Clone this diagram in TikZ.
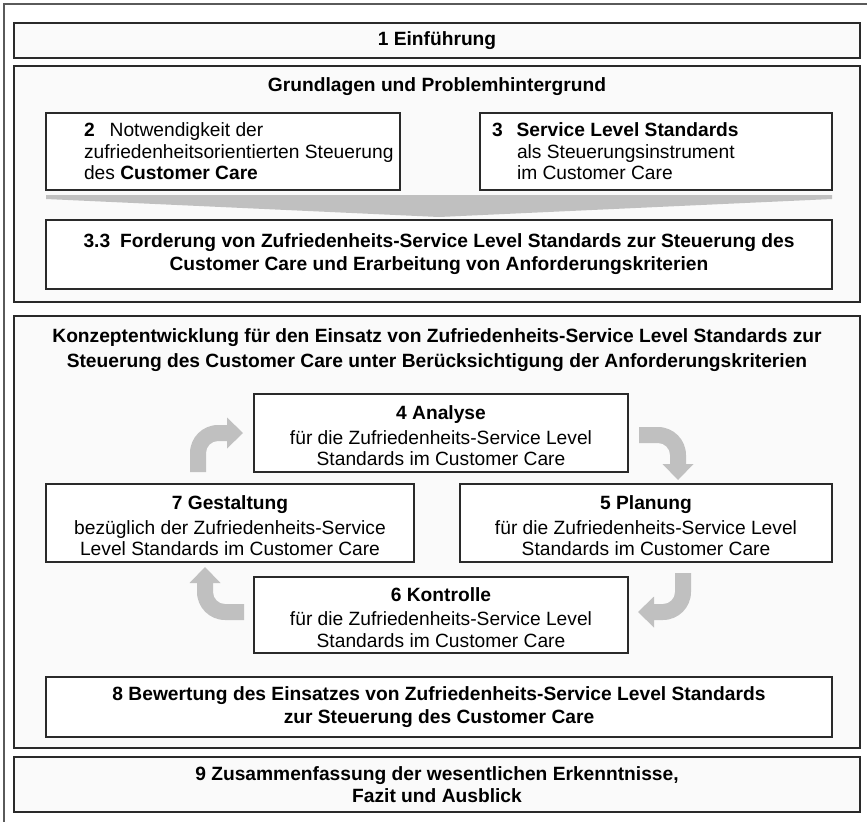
\documentclass[tikz,border=0pt]{standalone}
\usepackage{fontspec}
\setmainfont{Liberation Sans}
\definecolor{bgc}{HTML}{FAFAFA}
\definecolor{arrgray}{HTML}{C0C0C0}
\definecolor{framec}{HTML}{5A5A5A}
\definecolor{borderc}{HTML}{2A2A2A}
\newcommand\bentarrow[3]{%
  \begin{scope}[shift={(#1,#2)},rotate=#3]
    \fill[arrgray] (-28,19) -- (-28,0) .. controls (-28,-15.46) and (-15.46,-28) .. (0,-28)
      -- (9,-28) -- (9,-35.5) -- (25,-20) -- (9,-4.5) -- (9,-12) -- (0,-12)
      .. controls (-6.63,-12) and (-12,-6.63) .. (-12,0) -- (-12,19) -- cycle;
  \end{scope}}
\begin{document}
\begin{tikzpicture}[x=1pt,y=-1pt,
  every node/.style={font=\fontsize{19.2}{21.5}\selectfont, outer sep=0pt},
  groupbox/.style={draw=borderc, line width=1.3pt, fill=bgc, inner sep=0pt},
  plainbox/.style={draw=borderc, line width=1.3pt, fill=white, align=center, inner sep=2pt},
  titlebox/.style={draw=borderc, line width=1.3pt, fill=bgc, align=center, inner sep=2pt},
  ttl/.style={align=center, inner sep=0pt},
  lefttxt/.style={align=left, inner sep=0pt, anchor=west}]
\useasboundingbox (0,0) rectangle (867,822);
\fill[white] (0,0) rectangle (867,822);
\draw[framec, line width=1.5pt] (867,4) -- (4,4) -- (4,822);

\node[titlebox, minimum width=846pt, minimum height=35pt] (b1) at (437,40.5) {\textbf{1 Einführung}};

\node[groupbox, minimum width=846pt, minimum height=236pt] (g1) at (437,184) {};
\node[ttl] (g1t) at (437,87) {\textbf{Grundlagen und Problemhintergrund}};

\node[plainbox, minimum width=354pt, minimum height=77pt] (b2) at (223,151.5) {};
\node[lefttxt] (b2t) at (84,151.5)
  {\textbf{2}\hspace{15pt}Notwendigkeit der\\zufriedenheitsorientierten Steuerung\\des \textbf{Customer Care}};
\node[plainbox, minimum width=352pt, minimum height=77pt] (b3) at (656,151.5) {};
\node[lefttxt] (b3t) at (492,151.5)
  {\textbf{3}\hspace{14pt}\textbf{Service Level Standards}\\\hspace*{25pt}als Steuerungsinstrument\\\hspace*{25pt}im Customer Care};

\fill[arrgray] (46,195) -- (832,195) -- (832,199) -- (439,217) -- (46,199) -- cycle;

\node[plainbox, minimum width=786pt, minimum height=69pt] (b33) at (439,254.5)
  {\textbf{3.3\hspace{10pt}Forderung von Zufriedenheits-Service Level Standards zur Steuerung des}\\[1.5pt]\textbf{Customer Care und Erarbeitung von Anforderungskriterien}};

\node[groupbox, minimum width=846pt, minimum height=432pt] (g2) at (437,532) {};
\node[ttl] (g2t) at (437,350) {\textbf{Konzeptentwicklung für den Einsatz von Zufriedenheits-Service Level Standards zur}\\[3pt]\textbf{Steuerung des Customer Care unter Berücksichtigung der Anforderungskriterien}};

\node[plainbox, minimum width=374pt, minimum height=78pt] (b4) at (441,433) {};
\node[ttl] (b4t) at (441,436)
  {\textbf{4 Analyse}\\[3pt]für die Zufriedenheits-Service Level\\Standards im Customer Care};
\node[plainbox, minimum width=368pt, minimum height=78pt] (b7) at (230,523) {};
\node[ttl] (b7t) at (230,526)
  {\textbf{7 Gestaltung}\\[3pt]bezüglich der Zufriedenheits-Service\\Level Standards im Customer Care};
\node[plainbox, minimum width=372pt, minimum height=78pt] (b5) at (646,523) {};
\node[ttl] (b5t) at (646,526)
  {\textbf{5 Planung}\\[3pt]für die Zufriedenheits-Service Level\\Standards im Customer Care};
\node[plainbox, minimum width=374pt, minimum height=76pt] (b6) at (441,615) {};
\node[ttl] (b6t) at (441,617.5)
  {\textbf{6 Kontrolle}\\[3pt]für die Zufriedenheits-Service Level\\Standards im Customer Care};

\bentarrow{218}{453}{0}
\bentarrow{658}{455}{-90}
\bentarrow{663}{592}{180}
\bentarrow{225}{592}{90}

\node[plainbox, minimum width=786pt, minimum height=60pt] (b8) at (439,707)
  {\textbf{8 Bewertung des Einsatzes von Zufriedenheits-Service Level Standards}\\[1pt]\textbf{zur Steuerung des Customer Care}};

\node[titlebox, minimum width=846pt, minimum height=55pt] (b9) at (437,784.5)
  {\textbf{9 Zusammenfassung der wesentlichen Erkenntnisse,}\\[1pt]\textbf{Fazit und Ausblick}};
\end{tikzpicture}
\end{document}
